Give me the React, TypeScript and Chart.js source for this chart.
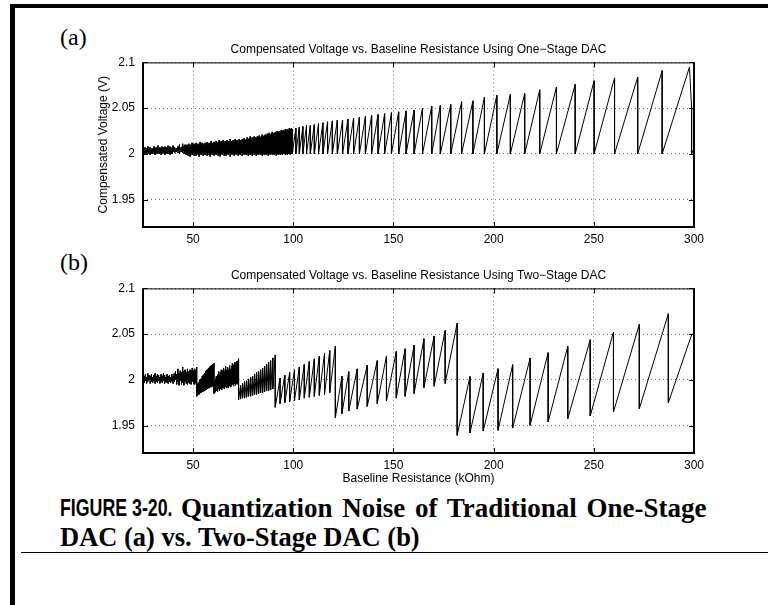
import React, { useEffect, useRef } from "react";
import { Chart, registerables } from "chart.js";

Chart.register(...registerables);

// ---------- axes ----------
const xTicks = [50, 100, 150, 200, 250, 300];
const yTicks = [1.95, 2, 2.05, 2.1];
const xMin = 25;
const xMax = 300;
const yMin = 1.92;
const yMax = 2.1;

// ---------- (a) one-stage DAC: each tooth = drop position (kOhm), value just before the drop, value just after ----------
const oneStageStartR = 25;
const oneStageStartV = 2.002;
const oneStageR = [
  25.5, 26.0, 26.5, 27.0, 27.5, 28.0, 28.5, 29.0, 29.5, 30.0, 30.5, 31.0, 31.5, 32.0, 32.5, 33.0, 33.5, 34.0, 34.5, 35.0,
  35.5, 36.0, 36.5, 37.0, 37.5, 38.0, 38.5, 39.0, 39.5, 40.0, 40.8, 41.6, 42.4, 43.2, 44.0, 44.8, 45.6, 46.0,
  46.5, 47.0, 47.5, 48.0, 48.5, 49.0, 49.5, 50.0, 50.5, 51.0, 51.5, 52.0, 52.5, 53.0, 53.5, 54.0, 54.5, 55.0, 55.5, 56.0,
  56.5, 57.0, 57.5, 58.0, 58.5, 59.0, 59.5, 60.0, 60.5, 61.0, 61.5, 62.0, 62.5, 63.0, 63.5, 64.0, 64.5, 65.0, 65.5, 66.0,
  66.5, 67.0, 67.5, 68.0, 68.5, 69.0, 69.5, 70.0, 70.5, 71.0, 71.5, 72.0, 72.5, 73.0, 73.5, 74.0, 74.5, 75.0, 75.5, 76.0,
  76.5, 77.0, 77.5, 78.0, 78.5, 79.0, 79.5, 80.0, 80.5, 81.0, 81.5, 82.0, 82.5, 83.0, 83.5, 84.0, 84.5, 85.0, 85.5, 86.0,
  86.5, 87.0, 87.5, 88.0, 88.5, 89.0, 89.5, 90.0, 90.5, 91.0, 91.5, 92.0, 92.5, 93.0, 93.5, 94.0, 94.5, 95.0, 95.5, 96.0,
  96.5, 97.0, 97.5, 98.0, 98.5, 99.0, 99.5,
  101.3, 103.0, 104.8, 106.6, 108.5, 110.5, 112.6, 114.8, 117.1, 119.5, 122.0, 124.6, 127.3, 130.1, 133.0, 136.0, 139.1, 142.3, 145.6, 149.0, 152.6, 156.3, 160.3,
  164.5, 169.1, 173.4, 178.6, 184.0, 189.65, 195.4, 201.6, 208.35, 215.5, 223.0, 231.35, 240.7, 250.15, 260.35, 271.9, 284.1,
];
const oneStagePeak = [
  2.005, 2.007, 2.004, 2.006, 2.008, 2.005, 2.007, 2.004, 2.006, 2.005, 2.008, 2.006, 2.007, 2.005, 2.009, 2.006, 2.007, 2.005, 2.008, 2.007,
  2.006, 2.008, 2.005, 2.007, 2.009, 2.006, 2.008, 2.005, 2.007, 2.009, 2.007, 2.006, 2.008, 2.010, 2.007, 2.011, 2.009, 2.010,
  2.008, 2.010, 2.009, 2.011, 2.008, 2.010, 2.012, 2.009, 2.011, 2.010, 2.012, 2.009, 2.011, 2.010, 2.013, 2.010, 2.012, 2.011, 2.009, 2.012,
  2.011, 2.013, 2.010, 2.012, 2.011, 2.014, 2.012, 2.010, 2.013, 2.012, 2.014, 2.011, 2.013, 2.015, 2.012, 2.014, 2.013, 2.015, 2.012, 2.014,
  2.013, 2.015, 2.014, 2.012, 2.016, 2.014, 2.013, 2.015, 2.014, 2.016, 2.014, 2.015, 2.013, 2.016, 2.015, 2.014, 2.016, 2.015, 2.017, 2.015,
  2.016, 2.018, 2.016, 2.017, 2.019, 2.016, 2.018, 2.017, 2.019, 2.018, 2.017, 2.019, 2.018, 2.020, 2.018, 2.019, 2.021, 2.019, 2.020, 2.021,
  2.020, 2.022, 2.021, 2.023, 2.021, 2.022, 2.024, 2.022, 2.023, 2.024, 2.023, 2.025, 2.024, 2.025, 2.024, 2.026, 2.025, 2.026, 2.025, 2.027,
  2.026, 2.027, 2.026, 2.028, 2.027, 2.028, 2.027,
  2.028, 2.029, 2.030, 2.031, 2.031, 2.032, 2.033, 2.034, 2.035, 2.036, 2.037, 2.037, 2.038, 2.039, 2.040, 2.041, 2.042, 2.043, 2.044, 2.045, 2.046, 2.047, 2.048,
  2.050, 2.052, 2.053, 2.054, 2.057, 2.058, 2.062, 2.064, 2.065, 2.066, 2.070, 2.073, 2.076, 2.080, 2.083, 2.084, 2.091,
];
const oneStageTrough = [
  2.000, 2.002, 1.999, 2.002, 2.000, 2.001, 1.999, 2.001, 2.000, 2.002, 2.000, 1.999, 2.001, 2.000, 2.002, 2.000, 2.001, 1.999, 2.000, 2.002,
  2.001, 1.999, 2.001, 2.000, 2.002, 2.000, 1.999, 2.001, 2.000, 2.002, 2.001, 2.002, 2.001, 2.000, 2.002, 2.001, 2.000, 2.000,
  1.999, 2.001, 1.998, 2.000, 1.997, 2.000, 1.999, 2.001, 1.998, 2.000, 1.998, 2.001, 1.999, 1.997, 2.000, 1.999, 2.001, 1.998, 2.000, 1.999,
  2.000, 1.998, 2.001, 1.999, 1.997, 2.000, 1.999, 2.001, 1.998, 2.000, 1.999, 2.001, 1.998, 2.000, 1.997, 2.000, 1.999, 2.001, 1.998, 2.000,
  1.998, 2.000, 1.999, 2.001, 1.997, 2.000, 1.999, 2.000, 1.998, 2.001, 1.999, 2.000, 1.998, 2.000, 1.999, 2.001, 1.998, 2.000, 1.999, 2.000,
  1.999, 2.001, 1.998, 2.000, 1.999, 2.000, 1.998, 2.001, 1.999, 2.000, 1.998, 2.000, 1.999, 2.001, 1.999, 2.000, 1.998, 2.000, 1.999, 2.000,
  1.999, 2.000, 1.998, 2.000, 1.999, 2.001, 1.999, 2.000, 1.999, 2.000, 1.998, 2.000, 1.999, 2.000, 1.999, 2.000, 1.999, 2.000, 2.000, 1.999,
  2.000, 1.999, 2.000, 2.000, 1.999, 2.000, 2.000,
  2.000, 2.000, 2.000, 2.000, 2.000, 2.000, 2.000, 2.000, 2.000, 2.000, 2.000, 2.000, 2.000, 2.000, 2.000, 2.000, 2.000, 2.000, 2.000, 2.000, 2.000, 2.000, 2.000,
  2.000, 2.000, 2.000, 2.000, 2.000, 2.000, 2.000, 2.000, 2.000, 2.000, 2.000, 2.000, 2.000, 2.000, 2.000, 2.000, 2.000,
];
// last tooth and the short tail at the right edge
const oneStageTailR = [297.75, 298.8, 298.8, 300];
const oneStageTailV = [2.095, 2.05, 2.0, 2.006];

// ---------- (b) two-stage DAC ----------
const twoStageStartR = 25;
const twoStageStartV = 2.0;
const twoStageR = [
  25.6, 26.2, 26.8, 27.4, 28.0, 28.6, 29.2, 29.8, 30.4, 31.0, 31.6, 32.2, 32.8, 33.4, 34.0, 34.6, 35.2, 35.8, 36.4, 37.0,
  37.6, 38.2, 38.8, 39.4, 40.0, 40.6, 41.2, 41.8, 42.4, 43.0, 43.6, 44.2, 44.8, 45.4, 46.0, 46.6, 47.2, 47.8, 48.4, 49.0,
  49.6, 50.2, 50.8, 51.4, 51.8,
  52.2, 52.6, 53.0, 53.4, 53.8, 54.2, 54.6, 55.0, 55.4, 55.8, 56.2, 56.6, 57.0, 57.4, 57.8, 58.2, 58.6, 59.0, 59.4, 59.8, 60.4,
  60.8, 61.2, 61.6, 62.0, 62.4, 62.8, 63.2, 63.6, 64.0, 64.4, 64.8, 65.2, 65.6, 66.0, 66.4, 66.8, 67.2, 67.6, 68.0, 68.4,
  68.8, 69.2, 69.6, 70.0, 70.4, 70.8, 71.2, 71.6, 72.0, 72.4, 72.7,
  73.7, 74.7, 75.7, 76.7, 77.7, 78.7, 79.7, 80.7, 81.7, 82.7, 83.7, 84.7, 85.7, 86.7, 87.7, 88.7, 89.8, 91.0,
  93.4, 95.8, 98.2, 100.6, 103.0, 105.5, 108.0, 110.5, 113.0, 115.6, 118.2, 121.0,
  124.3, 127.7, 131.9, 136.9, 141.9, 146.5, 151.4, 155.8, 160.3, 165.2, 170.3, 175.8, 181.8,
  188.2, 194.8, 202.2, 209.5, 218.2, 227.2, 237.0, 248.2, 259.8, 272.7, 287.2,
];
const twoStagePeak = [
  2.004, 2.006, 2.003, 2.007, 2.005, 2.004, 2.006, 2.003, 2.005, 2.007, 2.004, 2.006, 2.005, 2.003, 2.006, 2.004, 2.007, 2.005, 2.003, 2.006,
  2.004, 2.005, 2.003, 2.006, 2.004, 2.007, 2.009, 2.006, 2.012, 2.007, 2.010, 2.008, 2.014, 2.009, 2.011, 2.008, 2.012, 2.009, 2.011, 2.010,
  2.013, 2.010, 2.012, 2.011, 2.014,
  1.995, 1.997, 1.998, 2.000, 2.001, 2.002, 2.004, 2.005, 2.006, 2.007, 2.009, 2.010, 2.011, 2.012, 2.013, 2.014, 2.015, 2.016, 2.016, 2.017, 2.018,
  1.998, 2.001, 2.004, 2.002, 2.006, 2.009, 2.005, 2.008, 2.011, 2.007, 2.010, 2.013, 2.009, 2.012, 2.015, 2.011, 2.014, 2.010, 2.013, 2.016,
  2.012, 2.015, 2.018, 2.014, 2.017, 2.019, 2.016, 2.020, 2.018, 2.021, 2.023,
  1.994, 1.996, 1.998, 1.999, 2.001, 2.003, 2.004, 2.006, 2.008, 2.009, 2.011, 2.013, 2.015, 2.017, 2.019, 2.021, 2.024, 2.027,
  2.002, 2.005, 2.008, 2.011, 2.014, 2.017, 2.020, 2.023, 2.026, 2.029, 2.032, 2.037,
  2.004, 2.009, 2.012, 2.016, 2.021, 2.026, 2.031, 2.034, 2.038, 2.045, 2.048, 2.054, 2.062,
  2.0038, 2.0075, 2.0122, 2.0166, 2.0238, 2.0297, 2.0366, 2.0439, 2.0523, 2.0607, 2.0723,
];
const twoStageTrough = [
  1.997, 1.999, 1.996, 1.998, 2.000, 1.996, 1.998, 1.997, 1.999, 1.996, 1.998, 1.997, 1.999, 1.996, 1.998, 1.997, 1.999, 1.996, 1.998, 1.997,
  1.996, 1.998, 1.997, 1.999, 1.996, 1.998, 2.000, 1.995, 1.998, 1.994, 1.999, 1.995, 1.997, 1.994, 1.998, 1.996, 1.995, 1.997, 1.996, 1.995,
  1.998, 1.996, 1.995, 1.997, 1.982,
  1.983, 1.984, 1.984, 1.985, 1.986, 1.986, 1.987, 1.987, 1.988, 1.988, 1.989, 1.989, 1.990, 1.990, 1.991, 1.991, 1.992, 1.992, 1.993, 1.993, 1.985,
  1.986, 1.987, 1.988, 1.987, 1.989, 1.990, 1.988, 1.990, 1.991, 1.989, 1.991, 1.992, 1.990, 1.992, 1.993, 1.991, 1.993, 1.991, 1.993, 1.994,
  1.992, 1.994, 1.995, 1.993, 1.995, 1.996, 1.994, 1.996, 1.995, 1.997, 1.978,
  1.979, 1.980, 1.980, 1.981, 1.982, 1.982, 1.983, 1.984, 1.984, 1.985, 1.986, 1.986, 1.987, 1.988, 1.988, 1.989, 1.990, 1.970,
  1.974, 1.975, 1.976, 1.977, 1.978, 1.980, 1.981, 1.982, 1.983, 1.984, 1.986, 1.9587,
  1.963, 1.966, 1.968, 1.971, 1.974, 1.977, 1.980, 1.982, 1.985, 1.9915, 1.993, 1.996, 1.9393,
  1.9419, 1.944, 1.9448, 1.9473, 1.9503, 1.9539, 1.9576, 1.9605, 1.9648, 1.9685, 1.9751,
];
const twoStageTailR = [299];
const twoStageTailV = [2.0505];

const titleA = "Compensated Voltage vs. Baseline Resistance Using One\u2212Stage DAC";
const titleB = "Compensated Voltage vs. Baseline Resistance Using Two\u2212Stage DAC";
const yLabel = "Compensated Voltage (V)";
const xLabel = "Baseline Resistance (kOhm)";

const SANS = "'Liberation Sans', Arial, Helvetica, sans-serif";
const SERIF = "'Liberation Serif', 'Times New Roman', Times, serif";

function buildPoints(startR: number, startV: number, rs: number[], peaks: number[], troughs: number[], tailR: number[], tailV: number[]) {
  const pts: { x: number; y: number }[] = [{ x: startR, y: startV }];
  for (let i = 0; i < rs.length; i++) {
    pts.push({ x: rs[i], y: peaks[i] });
    pts.push({ x: rs[i], y: troughs[i] });
  }
  for (let i = 0; i < tailR.length; i++) pts.push({ x: tailR[i], y: tailV[i] });
  return pts;
}

const boxPlugin = {
  id: "matlabBox",
  afterDraw(chart: any) {
    const { ctx, chartArea, scales } = chart;
    const { left, right, top, bottom } = chartArea;
    const xs = scales.x;
    const ys = scales.y;
    ctx.save();
    ctx.strokeStyle = "#000";
    ctx.lineWidth = 1;
    ctx.beginPath();
    for (const v of xTicks) {
      const px = Math.round(xs.getPixelForValue(v)) + 0.5;
      ctx.moveTo(px, bottom);
      ctx.lineTo(px, bottom - 5);
      ctx.moveTo(px, top);
      ctx.lineTo(px, top + 5);
    }
    for (const v of yTicks) {
      const py = Math.round(ys.getPixelForValue(v)) + 0.5;
      ctx.moveTo(left, py);
      ctx.lineTo(left + 5, py);
      ctx.moveTo(right, py);
      ctx.lineTo(right - 5, py);
    }
    ctx.stroke();
    ctx.fillStyle = "#000";
    ctx.fillRect(left - 1, top, 2, bottom - top + 1);
    ctx.fillRect(left - 1, bottom - 1, right - left + 2, 2);
    ctx.fillRect(left, top, right - left + 1, 1);
    ctx.fillRect(right - 1, top, 2, bottom - top);
    ctx.restore();
  },
};

function makeConfig(points: { x: number; y: number }[], title: string, showY: boolean, showX: boolean, xHeight: number, padTop: number) {
  return {
    type: "line" as const,
    data: {
      datasets: [
        {
          data: points,
          borderColor: "#000",
          borderWidth: 1,
          pointRadius: 0,
          tension: 0,
          fill: false,
        },
      ],
    },
    options: {
      animation: false,
      responsive: false,
      maintainAspectRatio: false,
      events: [],
      layout: { padding: { left: 0, right: 74, top: padTop, bottom: 0 } },
      plugins: {
        legend: { display: false },
        tooltip: { enabled: false },
        title: {
          display: true,
          text: title,
          fullSize: false,
          color: "#000",
          font: { family: SANS, size: 12, weight: "normal" },
          padding: { top: 0, bottom: 6 },
        },
      },
      scales: {
        x: {
          type: "linear",
          min: xMin,
          max: xMax,
          afterBuildTicks: (s: any) => {
            s.ticks = xTicks.map((v) => ({ value: v }));
          },
          afterFit: (s: any) => {
            s.height = xHeight;
          },
          grid: { color: "#7a7a7a", lineWidth: 1, drawTicks: false },
          border: { display: false, dash: [1, 3] },
          ticks: {
            color: "#000",
            font: { family: SANS, size: 12 },
            padding: 5,
            maxRotation: 0,
            autoSkip: false,
          },
          title: {
            display: showX,
            text: xLabel,
            color: "#000",
            font: { family: SANS, size: 12 },
            padding: { top: 0, bottom: 4 },
          },
        },
        y: {
          type: "linear",
          min: yMin,
          max: yMax,
          afterBuildTicks: (s: any) => {
            s.ticks = yTicks.map((v) => ({ value: v }));
          },
          afterFit: (s: any) => {
            s.width = 143;
          },
          grid: { color: "#7a7a7a", lineWidth: 1, drawTicks: false },
          border: { display: false, dash: [1, 3] },
          ticks: {
            color: "#000",
            font: { family: SANS, size: 12 },
            padding: 8,
            callback: (v: any) => String(v),
          },
          title: {
            display: showY,
            text: yLabel,
            color: "#000",
            font: { family: SANS, size: 12 },
            padding: { top: 96, bottom: 0 },
          },
        },
      },
    },
    plugins: [boxPlugin],
  };
}

export default function App() {
  const refA = useRef<HTMLCanvasElement | null>(null);
  const refB = useRef<HTMLCanvasElement | null>(null);

  useEffect(() => {
    const ptsA = buildPoints(oneStageStartR, oneStageStartV, oneStageR, oneStagePeak, oneStageTrough, oneStageTailR, oneStageTailV);
    const ptsB = buildPoints(twoStageStartR, twoStageStartV, twoStageR, twoStagePeak, twoStageTrough, twoStageTailR, twoStageTailV);
    const a = new Chart(refA.current as HTMLCanvasElement, makeConfig(ptsA, titleA, true, false, 28, 2) as any);
    const b = new Chart(refB.current as HTMLCanvasElement, makeConfig(ptsB, titleB, false, true, 37, 8) as any);
    return () => {
      a.destroy();
      b.destroy();
    };
  }, []);

  return (
    <div style={{ position: "absolute", left: 0, top: 0, width: 768, height: 605, background: "#fff", overflow: "hidden" }}>
      <div style={{ position: "absolute", left: 10, top: 4, width: 758, height: 4, background: "#000" }} />
      <div style={{ position: "absolute", left: 10, top: 4, width: 5, height: 601, background: "#000" }} />
      <div style={{ position: "absolute", left: 60, top: 24, fontFamily: SERIF, fontSize: 24, lineHeight: "26px", color: "#000" }}>(a)</div>
      <div style={{ position: "absolute", left: 60, top: 249, fontFamily: SERIF, fontSize: 24, lineHeight: "26px", color: "#000" }}>(b)</div>
      <canvas ref={refA} width={768} height={215} style={{ position: "absolute", left: 0, top: 40, width: 768, height: 215 }} />
      <canvas ref={refB} width={768} height={230} style={{ position: "absolute", left: 0, top: 260, width: 768, height: 230 }} />
      <div style={{ position: "absolute", left: 60, top: 494, fontFamily: SANS, fontWeight: "bold", fontSize: 24, lineHeight: "28px", color: "#000", transform: "scaleX(0.74)", transformOrigin: "left top", whiteSpace: "nowrap" }}>FIGURE 3-20.</div>
      <div style={{ position: "absolute", left: 181, top: 494, fontFamily: SERIF, fontWeight: "bold", fontSize: 27, lineHeight: "28px", wordSpacing: 3, color: "#000", whiteSpace: "nowrap" }}>Quantization Noise of Traditional One-Stage</div>
      <div style={{ position: "absolute", left: 60, top: 523, fontFamily: SERIF, fontWeight: "bold", fontSize: 26.5, lineHeight: "28px", color: "#000", whiteSpace: "nowrap" }}>DAC (a) vs. Two-Stage DAC (b)</div>
      <div style={{ position: "absolute", left: 21, top: 552, width: 747, height: 1, background: "#000" }} />
    </div>
  );
}
